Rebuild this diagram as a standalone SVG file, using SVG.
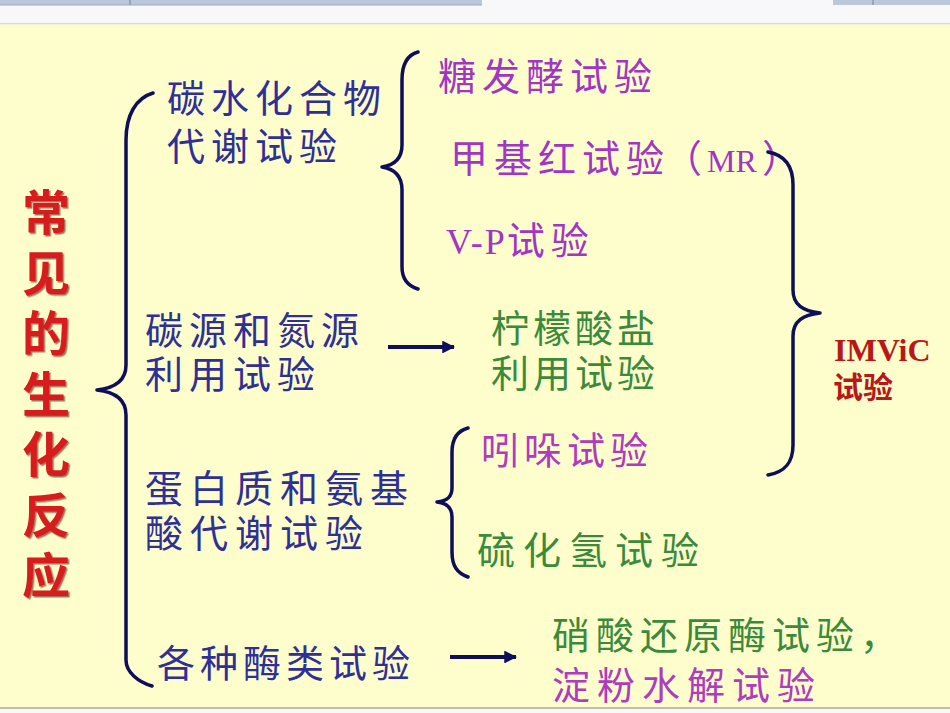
<svg xmlns="http://www.w3.org/2000/svg" width="950" height="713" viewBox="0 0 950 713">
<defs>
<filter id="sh" x="-10%" y="-10%" width="130%" height="130%">
<feDropShadow dx="1.5" dy="1.5" stdDeviation="0.6" flood-color="#5a0000" flood-opacity="0.55"/>
</filter>
<marker id="ah" viewBox="0 0 12 12" refX="11" refY="6" markerWidth="3.2" markerHeight="3.2" markerUnits="strokeWidth" orient="auto">
<path d="M0,0 L12,6 L0,12 Z" fill="#0e0e5a"/>
</marker>
</defs>
<style>
.cn{font-family:"Noto Sans CJK SC","Noto Sans",sans-serif;font-size:38px;letter-spacing:6px}
.blue{fill:#2f2f98}
.purple{fill:#a036c6}
.mag{fill:#ad3cc0}
.green{fill:#3b8a3b}
.title{font-family:"Noto Sans CJK SC",sans-serif;font-size:48px;font-weight:bold;fill:#d61c1c;text-anchor:middle}
.brace{fill:none;stroke:#0e0e5a;stroke-width:3.5;stroke-linecap:round;stroke-linejoin:round}
.arrow{fill:none;stroke:#0e0e5a;stroke-width:4}
.lat{font-family:"Liberation Serif",serif;letter-spacing:0}
</style>
<rect x="0" y="0" width="950" height="713" fill="#f8f8fa"/>
<rect x="0" y="0" width="482" height="5" fill="#b9c9d9"/>
<rect x="833" y="0" width="117" height="5" fill="#b9c9d9"/>
<line x1="130" y1="0" x2="130" y2="5" stroke="#8a9aaa" stroke-width="1.5"/>
<line x1="873" y1="0" x2="873" y2="5" stroke="#8a9aaa" stroke-width="1.5"/>
<line x1="0" y1="5" x2="482" y2="5" stroke="#9aaabb" stroke-width="1"/>
<rect x="0" y="23" width="950" height="1.5" fill="#d8d8d8"/>
<rect x="0" y="24.5" width="950" height="684" fill="#fefecc"/>
<rect x="0" y="707" width="950" height="2" fill="#bdbdb0"/>

<g id="title" filter="url(#sh)">
<text class="title"><tspan x="46" y="230">常</tspan><tspan x="46" y="290.5">见</tspan><tspan x="46" y="351">的</tspan><tspan x="46" y="411.5">生</tspan><tspan x="46" y="472">化</tspan><tspan x="46" y="532.5">反</tspan><tspan x="46" y="593">应</tspan></text>
</g>

<g id="carb">
<text class="cn blue"><tspan x="167" y="112">碳水化合物</tspan><tspan x="167" y="160">代谢试验</tspan></text>
</g>
<g id="sugar"><text class="cn purple" x="438" y="90">糖发酵试验</text></g>
<g id="mr"><text class="cn purple" x="450" y="172">甲基红试验<tspan x="664">（</tspan><tspan x="707" class="lat" font-size="32">MR</tspan><tspan x="762">）</tspan></text></g>
<g id="vp"><text class="cn purple" x="446" y="254"><tspan class="lat" font-size="36" style="letter-spacing:2px">V-P</tspan>试验</text></g>

<g id="carbon">
<text class="cn blue"><tspan x="145" y="344">碳源和氮源</tspan><tspan x="145" y="388">利用试验</tspan></text>
</g>
<g id="citrate">
<text class="cn green" style="letter-spacing:4px"><tspan x="491" y="342">柠檬酸盐</tspan><tspan x="491" y="387">利用试验</tspan></text>
</g>

<g id="protein">
<text class="cn blue" style="letter-spacing:7px"><tspan x="145" y="502">蛋白质和氨基</tspan><tspan x="145" y="547">酸代谢试验</tspan></text>
</g>
<g id="indole"><text class="cn mag" x="481" y="464" style="letter-spacing:5px">吲哚试验</text></g>
<g id="h2s"><text class="cn green" x="477" y="564" style="letter-spacing:8px">硫化氢试验</text></g>

<g id="enzyme"><text class="cn blue" x="157" y="677" style="letter-spacing:5px">各种酶类试验</text></g>
<g id="nitrate-starch">
<text class="cn"><tspan class="green" x="552" y="649">硝酸还原酶试验，</tspan><tspan class="mag" x="552" y="699" style="letter-spacing:7px">淀粉水解试验</tspan></text>
</g>

<g id="imvic">
<text font-weight="bold" fill="#b81818"><tspan x="834" y="361" font-family="Liberation Serif,serif" font-size="32">IMViC</tspan><tspan x="833" y="398" font-family="Noto Sans CJK SC,sans-serif" font-size="30">试验</tspan></text>
</g>

<g id="connectors">
<path class="brace" d="M153,93 C136,98 126,115 126,140 L126,365 C126,380 115,388 97,390 C115,392 126,400 126,415 L126,660 C126,672 138,682 152,686"/>
<path class="brace" d="M418,52 C407,55 402,65 402,80 L402,145 C402,158 395,165 382,167 C395,169 402,176 402,190 L402,267 C402,280 408,286 418,289"/>
<path class="brace" d="M468,428 C457,431 452,440 452,452 L452,488 C452,497 447,501 437,502 C447,503 452,508 452,517 L452,552 C452,566 457,573 468,577"/>
<path class="brace" d="M768,152 C785,155 793,167 793,185 L793,290 C793,305 803,311 820,313 C803,315 793,321 793,336 L793,445 C793,463 785,472 768,475"/>
<path class="arrow" d="M388,347 L454,347" marker-end="url(#ah)"/>
<path class="arrow" d="M450,657 L516,657" marker-end="url(#ah)"/>
</g>
</svg>
